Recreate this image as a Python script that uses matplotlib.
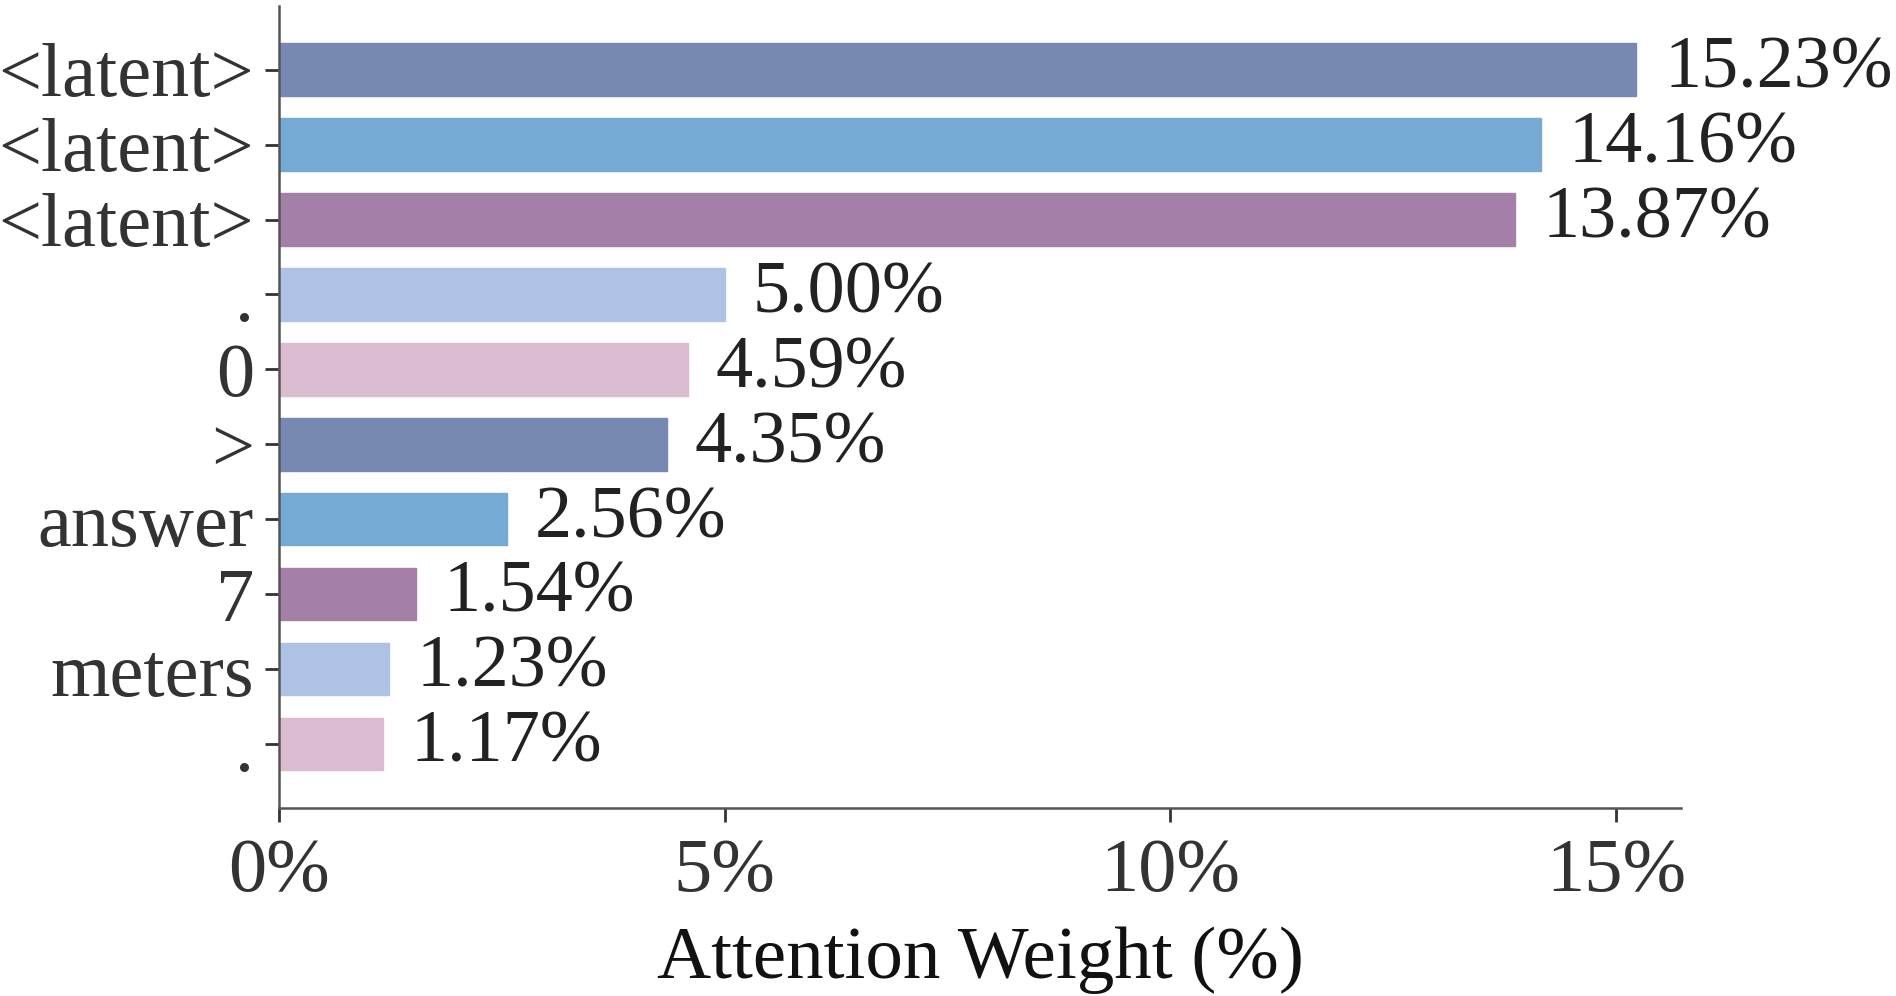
import matplotlib
matplotlib.use("Agg")
import matplotlib.pyplot as plt
from matplotlib.ticker import FuncFormatter

tokens = ["<latent>", "<latent>", "<latent>", ".", "0", ">", "answer", "7", "meters", "."]
weights = [15.23, 14.16, 13.87, 5.00, 4.59, 4.35, 2.56, 1.54, 1.23, 1.17]
colors = ["#7789b3", "#74aad3", "#a47fa8", "#aec3e3", "#dbbbd0",
          "#7789b3", "#74aad3", "#a47fa8", "#aec3e3", "#dbbbd0"]
xticks = [0, 5, 10, 15]

plt.rcParams['font.family'] = ['Liberation Serif', 'DejaVu Serif']

fig = plt.figure(figsize=(18.96, 9.96), dpi=100)
ax = fig.add_axes([0.1472, 0.189, 0.7394, 0.805])

ypos = list(range(len(tokens)))
ax.barh(ypos, weights, height=0.7, color=colors, edgecolor=colors, linewidth=1)
for y, w in zip(ypos, weights):
    ax.text(w + 0.31, y, f"{w:.2f}%", va="center", ha="left", fontsize=53.5, color="#222222")

ax.set_yticks(ypos)
ax.set_yticklabels(tokens)
ax.set_ylim(len(tokens) - 1 + 0.85, -0.85)
ax.set_xlim(0, 15.73)
ax.set_xticks(xticks)
ax.xaxis.set_major_formatter(FuncFormatter(lambda v, p: f"{v:.0f}%"))
ax.set_xlabel("Attention Weight (%)", fontsize=54, color="#111111", labelpad=14)

ax.tick_params(axis='both', labelsize=55, colors="#333333", length=10, width=2)
ax.tick_params(axis='x', pad=12)
ax.tick_params(axis='y', pad=8)
for s in ["top", "right"]:
    ax.spines[s].set_visible(False)
for s in ["left", "bottom"]:
    ax.spines[s].set_color("#555555")
    ax.spines[s].set_linewidth(1.8)

fig.savefig("out.png", dpi=100)
